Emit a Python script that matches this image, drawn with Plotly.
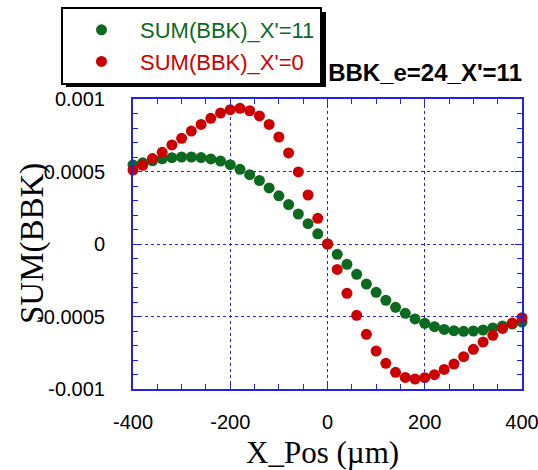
import plotly.graph_objects as go

x_pos = [-400, -380, -360, -340, -320, -300, -280, -260, -240, -220, -200,
         -180, -160, -140, -120, -100, -80, -60, -40, -20, 0,
         20, 40, 60, 80, 100, 120, 140, 160, 180, 200,
         220, 240, 260, 280, 300, 320, 340, 360, 380, 400]

sum_bbk_x11 = [0.000545, 0.000560, 0.000574, 0.000588, 0.000595, 0.000600, 0.000600,
               0.000596, 0.000587, 0.000572, 0.000547, 0.000515, 0.000478, 0.000438,
               0.000387, 0.000332, 0.000272, 0.000207, 0.000140, 0.000070, 0.0,
               -0.000071, -0.000140, -0.000209, -0.000276, -0.000333, -0.000388,
               -0.000437, -0.000478, -0.000517, -0.000547, -0.000570, -0.000589,
               -0.000598, -0.000602, -0.000600, -0.000593, -0.000579, -0.000565,
               -0.000552, -0.000538]

sum_bbk_x0 = [0.000510, 0.000543, 0.000589, 0.000632, 0.000683, 0.000729, 0.000779,
              0.000825, 0.000867, 0.000903, 0.000926, 0.000936, 0.000919, 0.000883,
              0.000825, 0.000738, 0.000628, 0.000497, 0.000338, 0.000177, 0.0,
              -0.000175, -0.000340, -0.000492, -0.000623, -0.000738, -0.000823,
              -0.000885, -0.000920, -0.000931, -0.000922, -0.000901, -0.000865,
              -0.000828, -0.000777, -0.000726, -0.000676, -0.000630, -0.000582,
              -0.000545, -0.000508]

series_names = ["SUM(BBK)_X'=11", "SUM(BBK)_X'=0"]

x_tickvals = [-400, -200, 0, 200, 400]
x_ticktext = ["-400", "-200", "0", "200", "400"]
y_tickvals = [-0.001, -0.0005, 0, 0.0005, 0.001]
y_ticktext = ["-0.001", "-0.0005", "0", "0.0005", "0.001"]

GREEN = "#0b6a1f"
RED = "#cc0000"
AXC = "#2222e0"

FW, FH = 538, 470
# plot-area pixel geometry (for paper-coordinate conversions)
L, R, T, B = 133, 522, 99, 389
W, H = R - L, B - T


def px(x):
    return (x - L) / W


def py(y):
    return (B - y) / H


fig = go.Figure()
fig.add_trace(go.Scatter(x=x_pos, y=sum_bbk_x11, mode="markers",
                         name=f"<span style='color:{GREEN}'>{series_names[0]}</span>",
                         marker=dict(color=GREEN, size=11), cliponaxis=False))
fig.add_trace(go.Scatter(x=x_pos, y=sum_bbk_x0, mode="markers",
                         name=f"<span style='color:{RED}'>{series_names[1]}</span>",
                         marker=dict(color=RED, size=11), cliponaxis=False))

common = dict(showline=True, linecolor=AXC, linewidth=2, mirror="ticks",
              ticks="inside", ticklen=7, tickcolor=AXC, tickwidth=1,
              showgrid=True, gridcolor=AXC, griddash="dot", gridwidth=1,
              zeroline=False, ticklabeloverflow="allow", automargin=False,
              tickfont=dict(family="Liberation Sans", size=20, color="black"))

fig.update_xaxes(range=[-400, 400], tickvals=x_tickvals, ticktext=x_ticktext,
                 minor=dict(dtick=50, ticks="inside", ticklen=5, tickcolor=AXC, showgrid=False),
                 ticklabelstandoff=14, **common)
fig.update_yaxes(range=[-0.001, 0.001], tickvals=y_tickvals, ticktext=y_ticktext,
                 minor=dict(dtick=0.0001, ticks="inside", ticklen=5, tickcolor=AXC, showgrid=False),
                 ticklabelstandoff=22, **common)

fig.update_layout(
    width=FW, height=FH,
    margin=dict(l=L, r=FW - R, t=T, b=FH - B, autoexpand=False),
    paper_bgcolor="white", plot_bgcolor="white",
    showlegend=True,
    legend=dict(xref="container", yref="container",
                x=61 / FW, y=1 - 7 / FH, xanchor="left", yanchor="top",
                bgcolor="white", bordercolor="black", borderwidth=2,
                font=dict(family="Liberation Sans", size=22),
                itemwidth=67, tracegroupgap=0),
    shapes=[dict(type="rect", xref="paper", yref="paper",
                 x0=px(66), x1=px(326), y0=py(87), y1=py(12),
                 fillcolor="black", line=dict(width=0), layer="above")],
    title=dict(text="<b>BBK_e=24_X'=11</b>", x=1, xref="paper", xanchor="right",
               y=1 - 73 / FH, yref="container", yanchor="middle",
               font=dict(family="Liberation Sans", size=24, color="black")),
    annotations=[
        dict(text="SUM(BBK)", xref="paper", yref="paper", x=px(32), y=0.5,
             textangle=-90, showarrow=False, xanchor="center", yanchor="middle",
             font=dict(family="Liberation Serif", size=33, color="black")),
        dict(text="X_Pos (µm)", xref="paper", yref="paper", x=px(322),
             y=py(452), showarrow=False, xanchor="center", yanchor="middle",
             font=dict(family="Liberation Serif", size=31, color="black")),
    ],
)

fig.write_html("out.html")
